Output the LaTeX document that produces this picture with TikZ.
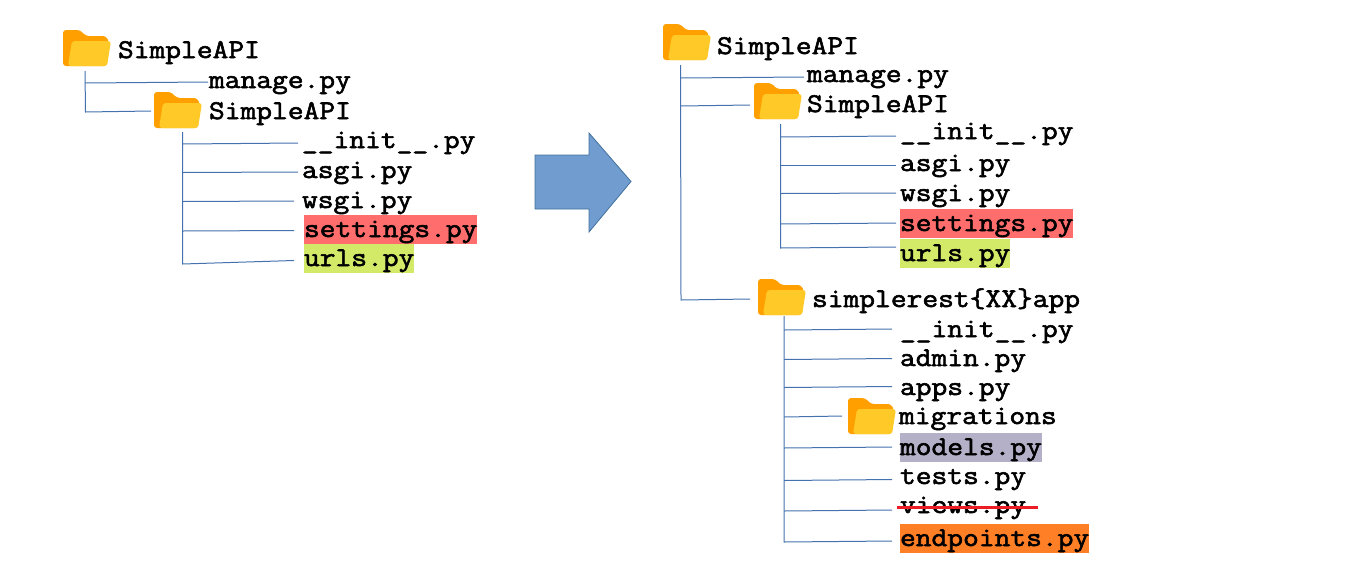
\documentclass[tikz,border=0pt]{standalone}
\usepackage{fontspec}
\usetikzlibrary{calc}
\newfontfamily\codefont[FakeStretch=1.134,FakeBold=2.2]{Latin Modern Mono}
\definecolor{linec}{HTML}{4472AE}
\definecolor{arrowf}{HTML}{719CD0}
\definecolor{arrowd}{HTML}{41719C}
\definecolor{fback}{HTML}{FFA000}
\definecolor{ffront}{HTML}{FFCA28}
\definecolor{hred}{HTML}{FF6D6D}
\definecolor{hgreen}{HTML}{D3E968}
\definecolor{hpurple}{HTML}{B4B0C8}
\definecolor{horange}{HTML}{FF7F27}
\definecolor{strikec}{HTML}{ED1C24}
\tikzset{
  x=1pt,y=-1pt,
  file/.style={anchor=base west,inner sep=0pt,outer sep=0pt,text height=20pt,text depth=7pt,
    font=\fontsize{27}{30}\codefont,text=black},
  marked/.style={file,text height=22pt,text depth=7pt,fill=#1},
  branch/.style={draw=linec,line width=1pt},
  strike/.style={draw=strikec,line width=3pt},
  bigarrow/.style={draw=arrowd,line width=0.8pt,fill=arrowf},
  folder/.pic={
    \fill[fback,rounded corners=3pt] (0,0) -- (17,0) -- (23,6) -- (43,6) -- (46,12) -- (44,36) -- (0,36) -- cycle;
    \fill[ffront,rounded corners=3pt] (9,11) -- (48,11) -- (44,36) -- (5,36) -- cycle;
    \node[inner sep=0pt,outer sep=0pt,minimum width=48pt,minimum height=36pt] (-box) at (24,18) {};
  }
}
\begin{document}
\begin{tikzpicture}
\useasboundingbox (0,0) rectangle (1348,584);
% left tree
\pic (fa) at (63,30) {folder};
\pic (fb) at (154,92) {folder};
\node[file] (a1) at (118,58) {SimpleAPI};
\node[file] (a2) at (209,88) {manage.py};
\node[file] (a3) at (209,119) {SimpleAPI};
\node[file] (a4) at (302,148) {\_\_init\_\_.py};
\node[file] (a5) at (302,178) {asgi.py};
\node[file] (a6) at (302,208) {wsgi.py};
\node[marked=hred] (a7) at (304,237) {settings.py};
\node[marked=hgreen] (a8) at (304,266) {urls.py};
\coordinate (ta) at (85,71);
\coordinate (ja) at (85,83);
\coordinate (ka) at (85.5,112);
\draw[branch] (ta) -- (ka) -- ($(ka -| fb-box.west)+(-3,-1)$);
\draw[branch] (ja) -- ($(ja -| a2.west)+(-1,-1)$);
\coordinate (tb) at (182.5,132);
\coordinate (b4) at (182.5,144);
\coordinate (b5) at (182.5,172.5);
\coordinate (b6) at (182.5,201.5);
\coordinate (b7) at (182.5,231);
\coordinate (b8) at (182.5,264);
\draw[branch] (tb) -- (b8) -- ($(b8 -| a8.west)+(-10,-3.5)$);
\draw[branch] (b4) -- ($(b4 -| a4.west)+(-4,-1)$);
\draw[branch] (b5) -- ($(b5 -| a5.west)+(-4,-0.5)$);
\draw[branch] (b6) -- ($(b6 -| a6.west)+(-8,-0.5)$);
\draw[branch] (b7) -- ($(b7 -| a7.west)+(-10,-0.5)$);
% arrow
\draw[bigarrow] (535,155) -- (589,155) -- (589,133) -- (631,181.5) -- (589,232) -- (589,209) -- (535,209) -- cycle;
% right tree
\pic (fc) at (663,24) {folder};
\pic (fd) at (754,83) {folder};
\pic (fe) at (758,279) {folder};
\pic (ff) at (848,398) {folder};
\node[file] (c1) at (717,54) {SimpleAPI};
\node[file] (c2) at (807,82) {manage.py};
\node[file] (c3) at (807,112) {SimpleAPI};
\node[file] (c4) at (900,139) {\_\_init\_\_.py};
\node[file] (c5) at (900,171) {asgi.py};
\node[file] (c6) at (900,201) {wsgi.py};
\node[marked=hred] (c7) at (900,231) {settings.py};
\node[marked=hgreen] (c8) at (900,261) {urls.py};
\node[file] (e1) at (812,307) {simplerest\{XX\}app};
\node[file] (e2) at (900,337) {\_\_init\_\_.py};
\node[file] (e3) at (900,366) {admin.py};
\node[file] (e4) at (900,395) {apps.py};
\node[file] (e5) at (899,424) {migrations};
\node[marked=hpurple] (e6) at (900,455) {models.py};
\node[file] (e7) at (900,484) {tests.py};
\node[file] (e8) at (900,513) {views.py};
\node[marked=horange] (e9) at (900,546) {endpoints.py};
\coordinate (tc) at (680.5,65);
\coordinate (j2) at (680.5,78);
\coordinate (j3) at (680.5,106);
\coordinate (j4) at (681,300);
\draw[branch] (tc) -- (j4) -- ($(j4 -| fe-box.west)+(-8,-1)$);
\draw[branch] (j2) -- ($(j2 -| c2.west)+(-3,-1)$);
\draw[branch] (j3) -- ($(j3 -| fd-box.west)+(-4,-1)$);
\coordinate (td) at (780.5,124);
\coordinate (d4) at (780.5,137);
\coordinate (d5) at (780.5,165);
\coordinate (d6) at (780.5,193.5);
\coordinate (d7) at (780.5,224);
\coordinate (d8) at (780.5,248);
\draw[branch] (td) -- (d8) -- ($(d8 -| c8.west)+(-4,-1)$);
\draw[branch] (d4) -- ($(d4 -| c4.west)+(-4,-1)$);
\draw[branch] (d5) -- ($(d5 -| c5.west)+(-4,0)$);
\draw[branch] (d6) -- ($(d6 -| c6.west)+(-4,-0.5)$);
\draw[branch] (d7) -- ($(d7 -| c7.west)+(-4,-1)$);
\coordinate (te) at (784,316);
\coordinate (g2) at (784,330);
\coordinate (g3) at (784,359.5);
\coordinate (g4) at (784,387.5);
\coordinate (g5) at (784,417);
\coordinate (g6) at (784,448);
\coordinate (g7) at (784,480.5);
\coordinate (g8) at (784,511);
\coordinate (g9) at (784,542);
\draw[branch] (te) -- (g9) -- ($(g9 -| e9.west)+(-8,-1)$);
\draw[branch] (g2) -- ($(g2 -| e2.west)+(-8,-1)$);
\draw[branch] (g3) -- ($(g3 -| e3.west)+(-8,-1)$);
\draw[branch] (g4) -- ($(g4 -| e4.west)+(-8,-1)$);
\draw[branch] (g5) -- ($(g5 -| ff-box.west)+(-6,-1)$);
\draw[branch] (g6) -- ($(g6 -| e6.west)+(-8,-1)$);
\draw[branch] (g7) -- ($(g7 -| e7.west)+(-8,-1)$);
\draw[branch] (g8) -- ($(g8 -| e8.west)+(-8,-1)$);
\coordinate (s1) at (897,507);
\coordinate (s2) at (1038,507);
\draw[strike] (s1) -- (s2);
\end{tikzpicture}
\end{document}
